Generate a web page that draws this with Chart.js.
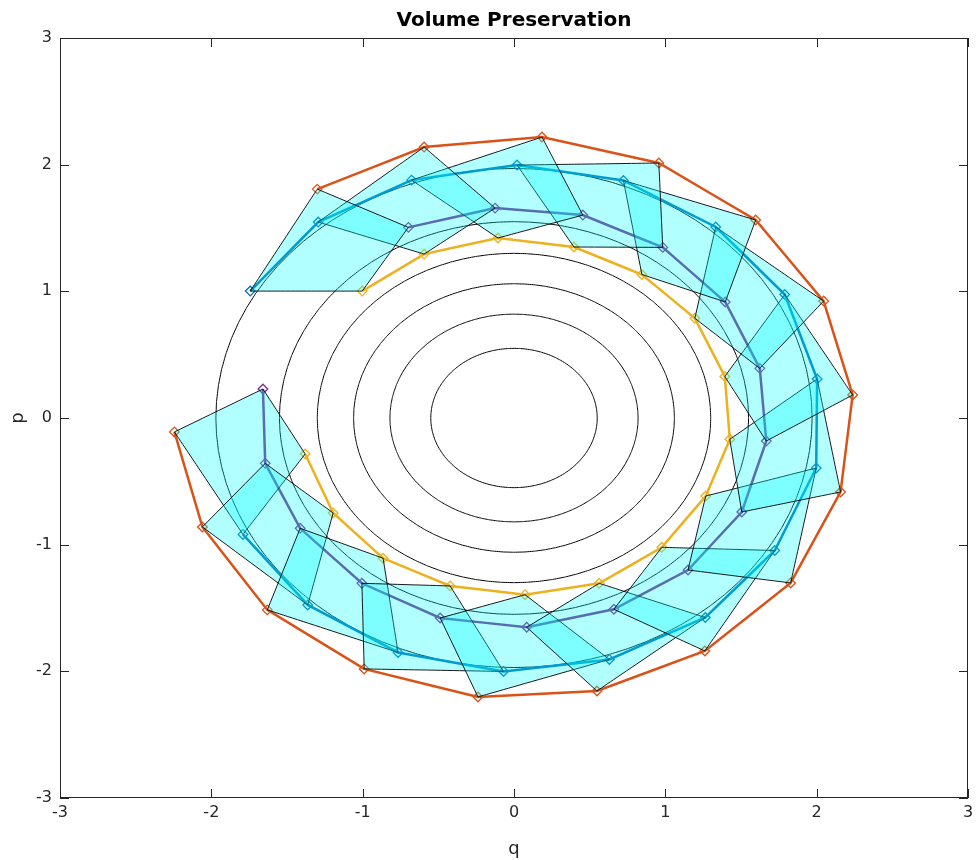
<!DOCTYPE html>
<html>
<head>
<meta charset="utf-8">
<script src="https://cdn.jsdelivr.net/npm/chart.js@4.4.1/dist/chart.umd.min.js"></script>
<style>
html,body{margin:0;padding:0;background:#ffffff;}
#wrap{width:980px;height:860px;}
</style>
</head>
<body>
<div id="wrap"><canvas id="c" width="980" height="860"></canvas></div>
<script>
// ---- data ----
const chartTitle = 'Volume Preservation';
const xLabel = 'q';
const yLabel = 'p';
const qTicks = [-3, -2, -1, 0, 1, 2, 3];
const pTicks = [-3, -2, -1, 0, 1, 2, 3];

// radii of the black level curves (circles in the q-p plane)
const contourRadii = [0.55, 0.82, 1.06, 1.30, 1.55, 1.97];

// corner trajectories (16 steps each)
const orangeQ = [-1.300, -0.594, 0.185, 0.957, 1.597, 2.046, 2.238, 2.158, 1.828, 1.261, 0.548, -0.238, -0.990, -1.630, -2.059, -2.244];
const orangeP = [ 1.807,  2.139, 2.218, 2.013, 1.563, 0.923, 0.182, -0.584, -1.302, -1.839, -2.155, -2.202, -1.981, -1.515, -0.860, -0.110];

const blueQ = [-1.743, -1.294, -0.677, 0.020, 0.723, 1.333, 1.789, 2.003, 1.997, 1.723, 1.264, 0.630, -0.069, -0.766, -1.363, -1.791];
const blueP = [ 1.002,  1.547,  1.878, 1.997, 1.875, 1.508, 0.975, 0.308, -0.395, -1.046, -1.575, -1.906, -2.001, -1.851, -1.476, -0.919];

const purpleQ = [-0.698, -0.125, 0.455, 0.983, 1.396, 1.624, 1.667, 1.505, 1.150, 0.660, 0.084, -0.488, -1.005, -1.413, -1.644, -1.659];
const purpleP = [ 1.505,  1.657, 1.602, 1.347, 0.916, 0.392, -0.182, -0.742, -1.200, -1.510, -1.652, -1.579, -1.305, -0.871, -0.358, 0.229];

const yellowQ = [-1.003, -0.594, -0.106, 0.396, 0.845, 1.195, 1.393, 1.426, 1.267, 0.977, 0.563, 0.073, -0.422, -0.865, -1.195, -1.380];
const yellowP = [ 1.002,  1.294,  1.421, 1.350, 1.133, 0.787, 0.328, -0.168, -0.616, -1.021, -1.305, -1.395, -1.326, -1.107, -0.750, -0.284];

// ---- styles ----
const COLORS = { orange: '#D95319', blue: '#0072BD', purple: '#7E2F8E', yellow: '#EDB120' };
const FILL = 'rgba(0,255,255,0.3)';
const AXIS = '#262626';
const TINY = 1e-6; // avoids Chart.js fast-path pixel aggregation (keeps plain straight segments)

// ---- build datasets ----
const datasets = [];

// level curves (drawn at the bottom)
contourRadii.forEach(r => {
  const pts = [];
  const n = 96;
  for (let k = 0; k <= n; k++) {
    const t = 2 * Math.PI * k / n;
    pts.push({ x: r * Math.cos(t), y: r * Math.sin(t) });
  }
  datasets.push({
    data: pts, showLine: true, borderColor: '#000000', borderWidth: 1,
    pointRadius: 0, fill: false, tension: TINY, order: 3
  });
});

// corner trajectories
function series(qs, ps, color) {
  return {
    data: qs.map((q, i) => ({ x: q, y: ps[i] })),
    showLine: true, borderColor: color, borderWidth: 2.5,
    pointStyle: 'rectRot', pointRadius: 4.8, pointBorderWidth: 1.3,
    pointBorderColor: color, pointBackgroundColor: 'rgba(0,0,0,0)',
    fill: false, tension: TINY, order: 2
  };
}
datasets.push(series(orangeQ, orangeP, COLORS.orange));
datasets.push(series(yellowQ, yellowP, COLORS.yellow));
datasets.push(series(purpleQ, purpleP, COLORS.purple));
datasets.push(series(blueQ, blueP, COLORS.blue));

// transported quadrilaterals (drawn on top, translucent)
for (let i = 0; i < blueQ.length; i++) {
  datasets.push({
    data: [
      { x: blueQ[i], y: blueP[i] },
      { x: yellowQ[i], y: yellowP[i] },
      { x: purpleQ[i], y: purpleP[i] },
      { x: orangeQ[i], y: orangeP[i] },
      { x: blueQ[i], y: blueP[i] }
    ],
    showLine: true, borderColor: '#000000', borderWidth: 0.9,
    backgroundColor: FILL, fill: 'shape', pointRadius: 0, tension: TINY, order: 1
  });
}

// box and inward tick marks (MATLAB style)
const boxTicks = {
  id: 'boxTicks',
  afterDraw(chart) {
    const { ctx, chartArea: a, scales: { x, y } } = chart;
    ctx.save();
    ctx.strokeStyle = AXIS;
    ctx.lineWidth = 1;
    ctx.strokeRect(Math.round(a.left) + 0.5, Math.round(a.top) + 0.5,
                   Math.round(a.right - a.left) - 1, Math.round(a.bottom - a.top) - 1);
    const L = 9;
    ctx.beginPath();
    qTicks.forEach(v => {
      const px = Math.round(x.getPixelForValue(v)) + 0.5;
      ctx.moveTo(px, a.bottom); ctx.lineTo(px, a.bottom - L);
      ctx.moveTo(px, a.top); ctx.lineTo(px, a.top + L);
    });
    pTicks.forEach(v => {
      const py = Math.round(y.getPixelForValue(v)) + 0.5;
      ctx.moveTo(a.left, py); ctx.lineTo(a.left + L, py);
      ctx.moveTo(a.right, py); ctx.lineTo(a.right - L, py);
    });
    ctx.stroke();
    ctx.restore();
  }
};

const tickFont = { family: 'DejaVu Sans', size: 16 };

new Chart(document.getElementById('c'), {
  type: 'scatter',
  data: { datasets },
  options: {
    responsive: false,
    animation: false,
    devicePixelRatio: 1,
    layout: { padding: { left: 0, right: 12, top: 0, bottom: 0 } },
    plugins: {
      legend: { display: false },
      tooltip: { enabled: false },
      title: {
        display: true, text: chartTitle, color: '#000000', fullSize: false,
        font: { family: 'DejaVu Sans', size: 20, weight: 'bold' },
        padding: { top: 9, bottom: 5 }
      }
    },
    scales: {
      x: {
        type: 'linear', min: -3, max: 3,
        afterBuildTicks(s) { s.ticks = qTicks.map(v => ({ value: v })); },
        afterFit(s) { s.height = 62; },
        grid: { display: true, drawOnChartArea: false, drawTicks: false },
        border: { display: false },
        ticks: { color: AXIS, font: tickFont, padding: 5, maxRotation: 0 },
        title: { display: true, text: xLabel, color: AXIS,
                 font: { family: 'DejaVu Sans', size: 18 }, padding: { top: 4, bottom: 0 } }
      },
      y: {
        type: 'linear', min: -3, max: 3,
        afterBuildTicks(s) { s.ticks = pTicks.map(v => ({ value: v })); },
        afterFit(s) { s.width = 60; },
        grid: { display: true, drawOnChartArea: false, drawTicks: false },
        border: { display: false },
        ticks: { color: AXIS, font: tickFont, padding: 8 },
        title: { display: true, text: yLabel, color: AXIS,
                 font: { family: 'DejaVu Sans', size: 18 }, padding: { top: 8, bottom: 0 } }
      }
    }
  },
  plugins: [boxTicks]
});
</script>
</body>
</html>
